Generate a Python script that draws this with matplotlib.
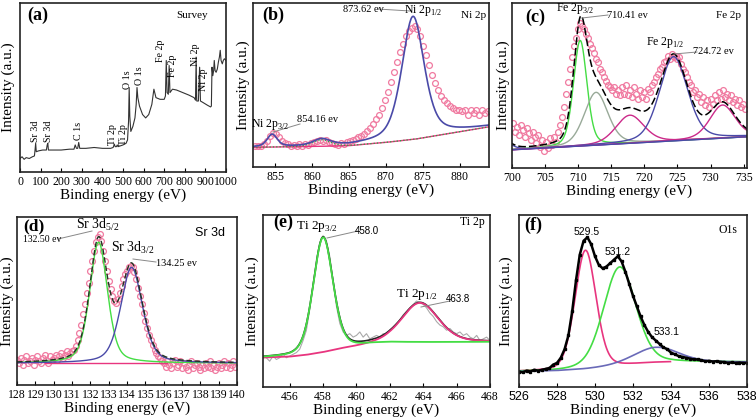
import numpy as np
import matplotlib
matplotlib.use("Agg")
import matplotlib.pyplot as plt

plt.rcParams['font.family'] = ['Liberation Serif', 'DejaVu Serif']
plt.rcParams['mathtext.fontset'] = 'custom'
plt.rcParams['mathtext.rm'] = 'Liberation Serif'

W, H = 756, 417

# ---------------- data ----------------
# (a) survey
survey_x = [0, 10, 20, 30, 45, 60, 70, 73, 76, 79, 90, 110, 128, 132, 135, 138, 160, 200, 240, 262, 268, 274,
            280, 285, 290, 320, 360, 400, 440, 452, 458, 462, 468, 472, 476, 500, 515, 522, 527, 530, 533,
            538, 548, 558, 564, 568, 572, 580, 595, 610, 625, 640, 650, 660, 680, 700, 706, 710, 714, 720,
            724, 728, 740, 760, 790, 820, 845, 852, 855, 858, 866, 872, 876, 890, 910, 925, 929, 932, 936,
            940, 943, 947, 952, 958, 963, 968, 972, 976, 982, 987, 992, 1000]
survey_y = [0.08, 0.09, 0.075, 0.085, 0.08, 0.09, 0.095, 0.13, 0.17, 0.12, 0.125, 0.13, 0.13, 0.16, 0.17,
            0.13, 0.13, 0.13, 0.135, 0.135, 0.16, 0.14, 0.14, 0.175, 0.14, 0.14, 0.145, 0.14, 0.14, 0.145,
            0.165, 0.15, 0.15, 0.16, 0.15, 0.16, 0.17, 0.19, 0.3, 0.5, 0.33, 0.24, 0.27, 0.32, 0.4, 0.5,
            0.44, 0.39, 0.34, 0.32, 0.34, 0.4, 0.49, 0.44, 0.43, 0.43, 0.45, 0.66, 0.47, 0.46, 0.63, 0.47,
            0.49, 0.485, 0.47, 0.455, 0.44, 0.425, 0.68, 0.42, 0.42, 0.62, 0.42, 0.41, 0.395, 0.385, 0.39,
            0.62, 0.57, 0.6, 0.66, 0.6, 0.59, 0.61, 0.65, 0.68, 0.72, 0.66, 0.64, 0.66, 0.67, 0.66]
survey_labels = ["Sr 3d", "Sr 3d", "C 1s", "Ti 2p", "Ti 2p", "O 1s", "O 1s", "Fe 2p", "Fe 2p", "Ni 2p", "Ni 2p"]
survey_label_x = [76, 136, 282, 448, 500, 524, 578, 684, 738, 850, 893]
survey_label_y = [0.18, 0.18, 0.19, 0.16, 0.16, 0.49, 0.515, 0.65, 0.56, 0.63, 0.48]

# (b) Ni 2p
ni_y = [0.13, 0.125, 0.13, 0.14, 0.16, 0.19, 0.21, 0.2, 0.18, 0.16, 0.145, 0.14, 0.13, 0.135, 0.125, 0.14,
        0.13, 0.14, 0.135, 0.145, 0.15, 0.16, 0.165, 0.16, 0.165, 0.15, 0.145, 0.14, 0.135, 0.145, 0.14,
        0.15, 0.16, 0.165, 0.17, 0.18, 0.19, 0.2, 0.22, 0.24, 0.26, 0.29, 0.32, 0.36, 0.41, 0.46, 0.52,
        0.58, 0.64, 0.7, 0.75, 0.8, 0.83, 0.85, 0.86, 0.84, 0.8, 0.74, 0.68, 0.62, 0.56, 0.51, 0.47, 0.43,
        0.41, 0.39, 0.37, 0.36, 0.35, 0.345, 0.34, 0.35, 0.32, 0.345, 0.33, 0.35, 0.32, 0.345, 0.33, 0.34]
ni_range = [852.3, 883.9]
ni_bg_x = [852, 860, 865, 870, 874, 878, 884]
ni_bg_y = [0.12, 0.125, 0.13, 0.15, 0.17, 0.2, 0.245]
ni_centers = [854.6, 861.3, 873.7]
ni_heights = [0.075, 0.04, 0.75]
ni_widths = [1.6, 2.8, 3.6]

# (c) Fe 2p
fe_y = [0.27, 0.22, 0.25, 0.2, 0.26, 0.23, 0.19, 0.24, 0.21, 0.17, 0.22, 0.19, 0.15, 0.2, 0.13, 0.17, 0.1,
        0.16, 0.12, 0.18, 0.14, 0.19, 0.16, 0.22, 0.26, 0.31, 0.37, 0.45, 0.52, 0.6, 0.67, 0.74, 0.79, 0.84,
        0.88, 0.86, 0.84, 0.81, 0.79, 0.75, 0.73, 0.7, 0.66, 0.64, 0.6, 0.58, 0.55, 0.53, 0.5, 0.49, 0.47,
        0.49, 0.45, 0.47, 0.44, 0.49, 0.45, 0.5, 0.44, 0.47, 0.43, 0.49, 0.45, 0.42, 0.47, 0.43, 0.46, 0.42,
        0.48, 0.46, 0.5, 0.52, 0.55, 0.57, 0.6, 0.61, 0.64, 0.65, 0.68, 0.66, 0.69, 0.67, 0.68, 0.66, 0.67,
        0.63, 0.6, 0.58, 0.55, 0.52, 0.5, 0.46, 0.47, 0.43, 0.45, 0.4, 0.43, 0.38, 0.41, 0.37, 0.42, 0.39,
        0.44, 0.41, 0.46, 0.42, 0.47, 0.43, 0.45, 0.41, 0.44, 0.4, 0.42, 0.38, 0.41, 0.37, 0.39, 0.36]
fe_range = [700.1, 735.2]
fe_bg_x = [700, 735.5]
fe_bg_y = [0.11, 0.19]
fe_centers = [698.5, 710.3, 712.7, 717.8, 724.4, 731.8]
fe_heights = [0.06, 0.64, 0.32, 0.17, 0.51, 0.2]
fe_widths = [3.0, 2.4, 4.2, 5.0, 5.0, 4.5]
fe_colors = ['#4a4aa8', '#44dd44', '#99aa99', '#cc2a8a', '#4a4aa8', '#cc2a8a']

# (d) Sr 3d
sr_y = [0.15, 0.13, 0.16, 0.12, 0.15, 0.17, 0.13, 0.14, 0.16, 0.12,
        0.15, 0.17, 0.14, 0.13, 0.16, 0.18, 0.15, 0.13, 0.17, 0.15,
        0.16, 0.18, 0.15, 0.17, 0.19, 0.16, 0.18, 0.2, 0.17, 0.19,
        0.2, 0.21, 0.23, 0.27, 0.31, 0.36, 0.42, 0.48, 0.55, 0.61,
        0.68, 0.74, 0.8, 0.85, 0.88, 0.9, 0.86, 0.8, 0.74, 0.68,
        0.62, 0.57, 0.53, 0.5, 0.49, 0.51, 0.55, 0.59, 0.63, 0.66,
        0.68, 0.7, 0.71, 0.7, 0.67, 0.63, 0.58, 0.53, 0.48, 0.43,
        0.38, 0.34, 0.3, 0.27, 0.24, 0.21, 0.19, 0.17, 0.16, 0.14,
        0.13, 0.11, 0.14, 0.12, 0.1, 0.13, 0.15, 0.11, 0.12, 0.14,
        0.1, 0.13, 0.11, 0.09, 0.12, 0.14, 0.1, 0.12, 0.13, 0.11,
        0.09, 0.12, 0.1, 0.13, 0.11, 0.14, 0.1, 0.12, 0.09, 0.11,
        0.13, 0.1, 0.12, 0.14, 0.11, 0.13, 0.1, 0.12, 0.14, 0.11]
sr_range = [128.0, 139.9]
sr_bg_x = [128, 140]
sr_bg_y = [0.13, 0.13]
sr_centers = [132.45, 134.25]
sr_heights = [0.72, 0.57]
sr_widths = [1.15, 1.4]

# (e) Ti 2p
ti_y = [0.17, 0.15, 0.18, 0.16, 0.17, 0.19, 0.17, 0.18, 0.19, 0.2, 0.22, 0.27, 0.33, 0.45, 0.6, 0.74, 0.84,
        0.88, 0.85, 0.76, 0.62, 0.47, 0.37, 0.32, 0.3, 0.31, 0.29, 0.3, 0.32, 0.29, 0.31, 0.28, 0.29, 0.3,
        0.29, 0.31, 0.31, 0.33, 0.35, 0.37, 0.39, 0.42, 0.44, 0.46, 0.48, 0.5, 0.49, 0.48, 0.46, 0.43,
        0.41, 0.38, 0.36, 0.35, 0.33, 0.34, 0.32, 0.31, 0.32, 0.3, 0.31, 0.29, 0.28, 0.3, 0.27, 0.28, 0.29, 0.27]
ti_range = [454.6, 468.0]
ti_bg_x = [454.4, 456, 457, 458, 459, 460, 461, 462, 468]
ti_bg_y = [0.17, 0.175, 0.185, 0.2, 0.22, 0.235, 0.25, 0.258, 0.262]
ti_centers = [458.0, 463.8]
ti_heights = [0.67, 0.23]
ti_widths = [1.4, 2.6]

# (f) O 1s
o_y = [0.09, 0.085, 0.095, 0.09, 0.1, 0.095, 0.1, 0.105, 0.11, 0.13, 0.14, 0.17, 0.22, 0.3, 0.44, 0.62,
       0.77, 0.85, 0.87, 0.83, 0.76, 0.71, 0.69, 0.7, 0.72, 0.74, 0.76, 0.73, 0.67, 0.6, 0.53, 0.47, 0.41,
       0.36, 0.32, 0.29, 0.27, 0.25, 0.23, 0.22, 0.2, 0.19, 0.18, 0.175, 0.17, 0.165, 0.16, 0.16, 0.155,
       0.15, 0.152, 0.148, 0.15, 0.146, 0.145, 0.14, 0.143, 0.14, 0.142, 0.14, 0.14]
o_range = [526.0, 538.0]
o_bg_x = [526, 528, 529.5, 531, 533, 534, 538]
o_bg_y = [0.09, 0.095, 0.105, 0.12, 0.14, 0.145, 0.145]
o_centers = [529.5, 531.3, 533.2]
o_heights = [0.69, 0.575, 0.09]
o_widths = [1.3, 2.0, 2.8]


def pv(x, c, h, w, eta=0.3):
    g = np.exp(-4 * np.log(2) * ((x - c) / w) ** 2)
    l = 1.0 / (1.0 + (2 * (x - c) / w) ** 2)
    return h * (eta * l + (1 - eta) * g)


def px(x, y):
    return x / W, 1 - y / H


def make_ax(fig, l, t, r, b):
    ax = fig.add_axes([l / W, 1 - b / H, (r - l) / W, (b - t) / H])
    ax.set_yticks([])
    ax.set_ylim(0, 1)
    for s in ax.spines.values():
        s.set_linewidth(1.2)
        s.set_color('#222222')
    ax.tick_params(axis='x', direction='in', length=3, width=0.8, labelsize=8.5, pad=3)
    return ax


def ylab(ax, xfig):
    # xfig: right edge (pixels) of the rotated label
    ax.set_ylabel('Intensity (a.u.)', fontsize=11)
    pos = ax.get_position()
    ax.yaxis.set_label_coords((xfig / W - pos.x0) / pos.width, 0.5)


PINK = '#f07aa0'
BLUE = '#4a4aa8'
GREEN = '#44dd44'
MAG = '#e8357f'

fig = plt.figure(figsize=(W / 100, H / 100), dpi=100)
fig.patch.set_facecolor('white')

# ---- (a) ----
ax = make_ax(fig, 20, 3, 226, 172)
ax.plot(survey_x, survey_y, color='#333333', lw=0.8)
ax.set_xlim(0, 1000)
ax.set_xticks(np.arange(0, 1001, 100))
ax.set_xlabel('Binding energy (eV)', fontsize=11, labelpad=0)
ylab(ax, 15)
for lab, lx, ly in zip(survey_labels, survey_label_x, survey_label_y):
    ax.text(lx, ly, lab, rotation=90, ha='center', va='bottom', fontsize=7.2)
fig.text(*px(38, 15), '(a)', fontsize=13, fontweight='bold', ha='center', va='center')
fig.text(*px(192, 15), 'Survey', fontsize=8, ha='center', va='center')

# ---- (b) ----
ax = make_ax(fig, 253, 3, 489, 167)
xf = np.linspace(852, 884, 400)
bg = np.interp(xf, ni_bg_x, ni_bg_y)
ax.plot(np.linspace(ni_range[0], ni_range[1], len(ni_y)), ni_y, 'o', mfc='none', mec=PINK, ms=4.2, mew=0.9)
ax.plot(xf, bg, color=MAG, lw=1.0)
ax.plot(xf, bg + pv(xf, ni_centers[1], ni_heights[1], ni_widths[1]), color='#22aa44', lw=0.9, ls=':')
tot = bg + sum(pv(xf, c, h, w, 0.5) for c, h, w in zip(ni_centers, ni_heights, ni_widths))
ax.plot(xf, tot, color=BLUE, lw=1.2)
ax.set_xlim(852, 884)
ax.set_xticks(np.arange(855, 881, 5))
ax.set_xlabel('Binding energy (eV)', fontsize=11, labelpad=0)
ylab(ax, 250)
fig.text(*px(273, 15), '(b)', fontsize=13, fontweight='bold', ha='center', va='center')
fig.text(*px(474, 15), 'Ni 2p', fontsize=8, ha='center', va='center')
fig.text(*px(363, 9), '873.62 ev', fontsize=7.5, ha='center', va='center')
fig.text(*px(423, 10), r'Ni 2p$_{1/2}$', fontsize=8.5, ha='center', va='center')
fig.text(*px(270, 125), r'Ni 2p$_{3/2}$', fontsize=8.5, ha='center', va='center')
fig.text(*px(318, 120), '854.16 ev', fontsize=7.5, ha='center', va='center')
fig.add_artist(plt.Line2D([378 / W, 410 / W], [1 - 9 / H, 1 - 11 / H], color='#888888', lw=0.7))
fig.add_artist(plt.Line2D([273 / W, 300 / W], [1 - 132 / H, 1 - 124 / H], color='#888888', lw=0.7))

# ---- (c) ----
ax = make_ax(fig, 512, 3, 747, 168)
xf = np.linspace(698, 736, 500)
bg = np.interp(xf, fe_bg_x, fe_bg_y)
ax.plot(np.linspace(fe_range[0], fe_range[1], len(fe_y)), fe_y, 'o', mfc='none', mec=PINK, ms=4.2, mew=0.9)
for c, h, w, col in zip(fe_centers, fe_heights, fe_widths, fe_colors):
    ax.plot(xf, bg + pv(xf, c, h, w), color=col, lw=1.0)
ax.plot(xf, bg, color=BLUE, lw=1.0)
tot = bg + sum(pv(xf, c, h, w) for c, h, w in zip(fe_centers, fe_heights, fe_widths))
ax.plot(xf, tot, color='black', lw=1.1, ls=(0, (5, 2)))
ax.set_xlim(700, 735.5)
ax.set_xticks(np.arange(700, 736, 5))
ax.set_xlabel('Binding energy (eV)', fontsize=11, labelpad=0)
ylab(ax, 510)
fig.text(*px(535, 17), '(c)', fontsize=13, fontweight='bold', ha='center', va='center')
fig.text(*px(728, 15), 'Fe 2p', fontsize=8, ha='center', va='center')
fig.text(*px(575, 9), r'Fe 2p$_{3/2}$', fontsize=8.5, ha='center', va='center')
fig.text(*px(627, 15), '710.41 ev', fontsize=7.5, ha='center', va='center')
fig.text(*px(665, 43), r'Fe 2p$_{1/2}$', fontsize=8.5, ha='center', va='center')
fig.text(*px(713, 52), '724.72 ev', fontsize=7.5, ha='center', va='center')
fig.add_artist(plt.Line2D([582 / W, 608 / W], [1 - 18 / H, 1 - 15 / H], color='#888888', lw=0.7))
fig.add_artist(plt.Line2D([674 / W, 697 / W], [1 - 54 / H, 1 - 52 / H], color='#888888', lw=0.7))

# ---- (d) ----
ax = make_ax(fig, 17, 217, 237, 385)
xf = np.linspace(128, 140, 400)
bg = np.interp(xf, sr_bg_x, sr_bg_y)
ax.plot(np.linspace(sr_range[0], sr_range[1], len(sr_y)), sr_y, 'o', mfc='none', mec=PINK, ms=4.2, mew=0.9)
sel = (xf > 129.5) & (xf < 136.2)
ax.plot(xf[sel], bg[sel], color=MAG, lw=1.0)
ax.plot(xf, bg + pv(xf, sr_centers[0], sr_heights[0], sr_widths[0], 0.4), color=GREEN, lw=1.0)
ax.plot(xf, bg + pv(xf, sr_centers[1], sr_heights[1], sr_widths[1], 0.4), color=BLUE, lw=1.0)
tot = bg + sum(pv(xf, c, h, w, 0.4) for c, h, w in zip(sr_centers, sr_heights, sr_widths))
ax.plot(xf, tot, color='#223322', lw=1.0, ls=(0, (4, 2)))
ax.set_xlim(128, 140)
ax.set_xticks(np.arange(128, 141, 1))
ax.set_xlabel('Binding energy (eV)', fontsize=11, labelpad=0)
ylab(ax, 14)
fig.text(*px(34, 226), '(d)', fontsize=12.5, fontweight='bold', ha='center', va='center')
fig.text(*px(98, 225), r'Sr 3d$_{5/2}$', fontsize=10, ha='center', va='center')
fig.text(*px(42, 240), '132.50 ev', fontsize=7, ha='center', va='center')
fig.text(*px(133, 248), r'Sr 3d$_{3/2}$', fontsize=10, ha='center', va='center')
fig.text(*px(176, 263), '134.25 ev', fontsize=7.5, ha='center', va='center')
fig.text(*px(210, 233), 'Sr 3d', fontsize=9, ha='center', va='center', family='Liberation Sans')
fig.add_artist(plt.Line2D([58 / W, 92 / W], [1 - 239 / H, 1 - 231 / H], color='#888888', lw=0.7))
fig.add_artist(plt.Line2D([133 / W, 156 / W], [1 - 259 / H, 1 - 262 / H], color='#888888', lw=0.7))

# ---- (e) ----
ax = make_ax(fig, 263, 215, 490, 387)
xf = np.linspace(454.4, 468, 400)
bg = np.interp(xf, ti_bg_x, ti_bg_y)
ax.plot(np.linspace(ti_range[0], ti_range[1], len(ti_y)), ti_y, color='#aaaaaa', lw=0.8)
tot = bg + sum(pv(xf, c, h, w, 0.3) for c, h, w in zip(ti_centers, ti_heights, ti_widths))
ax.plot(xf, tot, color='#222222', lw=1.2)
ax.plot(xf, bg + pv(xf, ti_centers[1], ti_heights[1], ti_widths[1], 0.3), color=MAG, lw=1.3)
ax.plot(xf, bg + pv(xf, ti_centers[0], ti_heights[0], ti_widths[0], 0.3), color=GREEN, lw=1.3)
ax.set_xlim(454.4, 468)
ax.set_xticks(np.arange(456, 469, 2))
ax.set_xlabel('Binding energy (eV)', fontsize=11, labelpad=0)
ylab(ax, 259)
fig.text(*px(283, 222), '(e)', fontsize=13, fontweight='bold', ha='center', va='center')
fig.text(*px(472, 222), 'Ti 2p', fontsize=8.5, ha='center', va='center')
fig.text(*px(317, 227), r'Ti 2p$_{3/2}$', fontsize=9.5, ha='center', va='center')
fig.text(*px(367, 231), '458.0', fontsize=7, ha='center', va='center', family='Liberation Sans')
fig.text(*px(417, 295), r'Ti 2p$_{1/2}$', fontsize=9.5, ha='center', va='center')
fig.text(*px(458, 299), '463.8', fontsize=7, ha='center', va='center', family='Liberation Sans')
fig.add_artist(plt.Line2D([327 / W, 358 / W], [1 - 238 / H, 1 - 231 / H], color='#888888', lw=0.7))
fig.add_artist(plt.Line2D([421 / W, 450 / W], [1 - 307 / H, 1 - 301 / H], color='#888888', lw=0.7))

# ---- (f) ----
ax = make_ax(fig, 519, 215, 747, 387)
xf = np.linspace(526, 538, 400)
bg = np.interp(xf, o_bg_x, o_bg_y)
ax.plot(xf[xf < 534], (bg + pv(xf, o_centers[0], o_heights[0], o_widths[0], 0.2))[xf < 534], color=MAG, lw=1.2)
ax.plot(xf, bg + pv(xf, o_centers[1], o_heights[1], o_widths[1], 0.2), color=GREEN, lw=1.2)
ax.plot(xf, bg + pv(xf, o_centers[2], o_heights[2], o_widths[2], 0.2), color='#6a6ab8', lw=1.2)
ax.plot(np.linspace(o_range[0], o_range[1], len(o_y)), o_y, color='black', lw=1.8, marker='s', ms=1.5)
ax.set_xlim(526, 538)
ax.set_xticks(np.arange(526, 539, 2))
ax.tick_params(axis='x', labelsize=9)
for t in ax.get_xticklabels():
    t.set_family('Liberation Sans')
ax.set_xlabel('Binding energy (eV)', fontsize=11, labelpad=0)
ylab(ax, 513)
fig.text(*px(533, 225), '(f)', fontsize=13, fontweight='bold', ha='center', va='center')
fig.text(*px(728, 230), 'O1s', fontsize=8.5, ha='center', va='center')
fig.text(*px(587, 232), '529.5', fontsize=7.5, ha='center', va='center', family='Liberation Sans')
fig.text(*px(618, 252), '531.2', fontsize=7.5, ha='center', va='center', family='Liberation Sans')
fig.text(*px(667, 332), '533.1', fontsize=7.5, ha='center', va='center', family='Liberation Sans')

fig.savefig('out.png', dpi=100)
